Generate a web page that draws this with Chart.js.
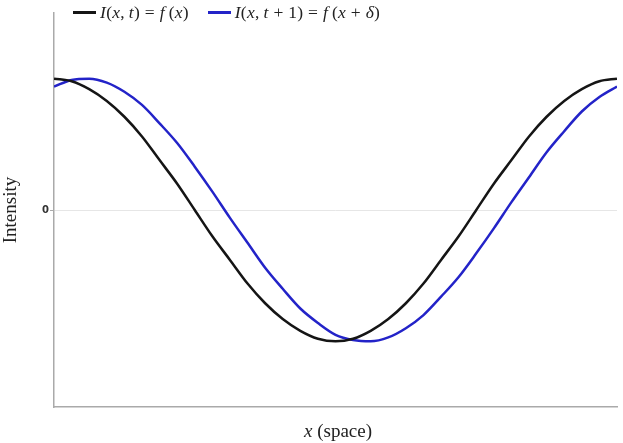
<!DOCTYPE html>
<html>
<head>
<meta charset="utf-8">
<script src="https://cdn.jsdelivr.net/npm/chart.js@4/dist/chart.umd.min.js"></script>
<style>
  body { margin: 0; background: #fff; }
  #wrap { position: relative; width: 623px; height: 443px; }
  .legend { position: absolute; top: 2px; left: 73px; font-family: "Liberation Serif", serif; font-size: 17.5px; letter-spacing: 0.3px; color: #222; white-space: nowrap; }
  .legend span.item { display: inline-block; margin-right: 14px; }
  .legend i.sw { display: inline-block; width: 23px; height: 2.5px; vertical-align: middle; margin-right: 4px; margin-top: -3px; }
  .xt { position: absolute; left: 0; width: 676px; top: 420px; text-align: center; font-family: "Liberation Serif", serif; font-size: 19px; color: #222; }
</style>
</head>
<body>
<div id="wrap">
  <canvas id="c" width="623" height="443"></canvas>
  <div class="legend">
    <span class="item"><i class="sw" style="background:#151515"></i><em>I</em>(<em>x</em>,&thinsp;<em>t</em>) = <em>f</em>&thinsp;(<em>x</em>)</span>
    <span class="item"><i class="sw" style="background:#2323c8"></i><em>I</em>(<em>x</em>,&thinsp;<em>t</em> + 1) = <em>f</em>&thinsp;(<em>x</em> + <em>δ</em>)</span>
  </div>
  <div class="xt"><em>x</em> (space)</div>
</div>
<script>
const xs = [0,1,2,3,4,5,6,7,8,9,10,11,12,13,14,15,16,17,18,19,20,21,22,23,24,25,26,27,28,29,30,31,32];
const current = [1.00,0.98,0.92,0.83,0.71,0.56,0.38,0.20,0.00,-0.20,-0.38,-0.56,-0.71,-0.83,-0.92,-0.98,-1.00,
  -0.98,-0.92,-0.83,-0.71,-0.56,-0.38,-0.20,0.00,0.20,0.38,0.56,0.71,0.83,0.92,0.98,1.00];
const shifted = [0.94,0.99,1.00,0.97,0.90,0.80,0.66,0.51,0.33,0.14,-0.06,-0.25,-0.44,-0.60,-0.75,-0.86,-0.95,
  -0.99,-1.00,-0.97,-0.90,-0.80,-0.66,-0.51,-0.33,-0.14,0.06,0.25,0.44,0.60,0.75,0.86,0.94];
const yTicks = [0];

const pts = (ys) => xs.map((x, i) => ({ x: x, y: ys[i] }));

new Chart(document.getElementById("c").getContext("2d"), {
  type: "line",
  data: {
    datasets: [
      { label: "I(x,t) = f(x)", data: pts(current), borderColor: "#151515", borderWidth: 2.5, pointRadius: 0, cubicInterpolationMode: "monotone" },
      { label: "I(x,t+1) = f(x+δ)", data: pts(shifted), borderColor: "#2323c8", borderWidth: 2.5, pointRadius: 0, cubicInterpolationMode: "monotone" },
    ],
  },
  options: {
    responsive: false,
    animation: false,
    layout: { padding: { top: 13, right: 6, left: 0, bottom: 0 } },
    plugins: { legend: { display: false }, tooltip: { enabled: false } },
    scales: {
      x: {
        type: "linear",
        min: 0,
        max: 32,
        ticks: { display: false },
        grid: { display: false, drawTicks: false },
        border: { color: "#aaa", width: 1.5 },
        afterFit: (s) => { s.height = 36; },
      },
      y: {
        min: -1.5,
        max: 1.5,
        afterBuildTicks: (s) => { s.ticks = yTicks.map((v) => ({ value: v })); },
        ticks: { color: "#333", font: { family: "DejaVu Sans", size: 10, weight: "bold" }, padding: 1 },
        grid: { color: "#e6e6e6", tickLength: 4, tickColor: "#aaa" },
        border: { color: "#aaa", width: 1.5 },
        title: { display: true, text: "Intensity", color: "#222", font: { family: "Liberation Serif", size: 19 }, padding: 0 },
        afterFit: (s) => { s.width = 54; },
      },
    },
  },
});
</script>
</body>
</html>
